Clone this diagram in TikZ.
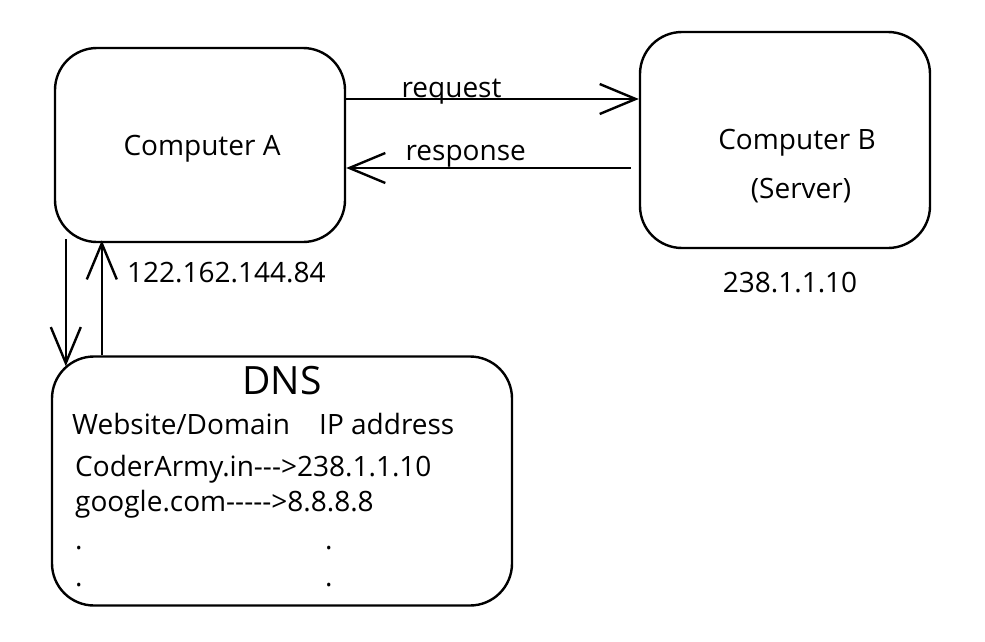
\documentclass[tikz,border=0pt]{standalone}
\usepackage{fontspec}
\setmainfont{Open Sans}[Ligatures=TeXOff]
\usetikzlibrary{arrows.meta}

\tikzset{
  box/.style={draw, line width=2.4pt, rounded corners=42pt, inner sep=0pt},
  arr/.style={-{Straight Barb[length=36pt, width=30pt, line width=2.4pt]}, line width=2.4pt},
  txt/.style={font=\fontsize{28}{32}\selectfont, inner sep=0pt},
}

\begin{document}
\begin{tikzpicture}[x=1pt, y=-1pt]
   \useasboundingbox (0,0) rectangle (985,642);

   \node[box, minimum width=290pt, minimum height=194pt] (ca) at (200,145) {};
   \node[box, minimum width=290pt, minimum height=216pt] (cb) at (785,140) {};
   \node[box, minimum width=460pt, minimum height=249pt] (dns) at (282,481) {};

   \node[txt] (ta) at (202,149) {Computer A};
   \node[txt] (tb) at (797,143) {Computer B};
   \node[txt] (ts) at (801,191) {(Server)};
   \node[txt, anchor=west] (ipa) at (127,273) {122.162.144.84};
   \node[txt] (ipb) at (790,283) {238.1.1.10};

   \node[txt, font=\fontsize{39}{44}\selectfont] (dt) at (282,381) {DNS};
   \node[txt, anchor=west] (h1) at (72,424) {Website/Domain};
   \node[txt, anchor=west] (h2) at (319,424) {IP address};
   \node[txt, anchor=west] (r1) at (75,469) {CoderArmy.in--->238.1.1.10};
   \node[txt, anchor=west] (r2) at (75,504) {google.com----->8.8.8.8};
   \node[txt, anchor=west] (d1) at (75,548) {.};
   \node[txt, anchor=west] (d2) at (75,585) {.};
   \node[txt, anchor=west] (d3) at (325,548) {.};
   \node[txt, anchor=west] (d4) at (325,585) {.};

   % request / response
   \draw[arr] ([yshift=46pt]ca.east) -- ([yshift=46pt]ca.east -| cb.west)
      node[txt, pos=.36, above=-6pt] (lreq) {request};
   \draw[arr] ([yshift=-23pt]ca.east -| cb.west) ++(-8,0) -- ([yshift=-23pt]ca.east)
      node[txt, pos=.58, above=0pt] (lres) {response};

   % to and from DNS
   \draw[arr] (ca.south west) ++(12,-4) -- ++(0,127);
   \draw[arr] (dns.north west) ++(51,0) -- ++(0,-115);
\end{tikzpicture}
\end{document}
